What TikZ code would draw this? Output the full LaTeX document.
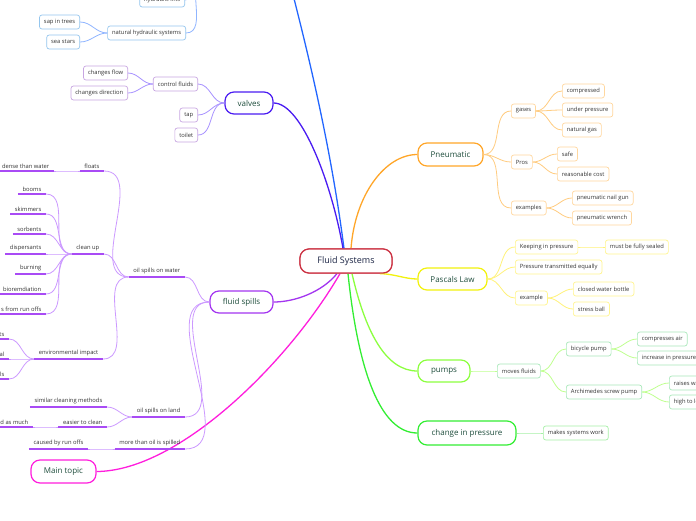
\documentclass[tikz,border=0pt]{standalone}
\usepackage{fontspec}
\setmainfont{Open Sans}
\definecolor{tgray}{HTML}{333333}
\definecolor{mtext}{HTML}{1E4D3C}
\definecolor{ctext}{HTML}{1B2444}
\definecolor{cred}{HTML}{CC3344}
\definecolor{orM}{HTML}{FFA629}
\definecolor{orS}{HTML}{FFD79E}
\definecolor{orL}{HTML}{FFCC80}
\definecolor{yeM}{HTML}{F2F20D}
\definecolor{yeS}{HTML}{FFF58F}
\definecolor{yeL}{HTML}{FFF27A}
\definecolor{puM}{HTML}{8CFF3F}
\definecolor{puS}{HTML}{A9E8BA}
\definecolor{puL}{HTML}{BFFF8F}
\definecolor{chM}{HTML}{33EE33}
\definecolor{chS}{HTML}{A6F0A6}
\definecolor{vaM}{HTML}{4A1CF2}
\definecolor{vaS}{HTML}{C8A6E2}
\definecolor{vaL}{HTML}{A892FF}
\definecolor{hyM}{HTML}{2266FF}
\definecolor{hyS}{HTML}{94C6EE}
\definecolor{hyL}{HTML}{8FB5FF}
\definecolor{fsM}{HTML}{A335F0}
\definecolor{fsU}{HTML}{A94BF5}
\definecolor{fsL}{HTML}{CC99FF}
\definecolor{mtM}{HTML}{FF1EDD}
\begin{document}
\begin{tikzpicture}[x=1pt,y=-1pt,
  mn/.style={draw, line width=1.2pt, rounded corners=9pt, fill=white, font=\fontsize{8}{9}\selectfont, text=mtext, minimum height=23pt, inner sep=2pt},
  sb/.style={draw, line width=0.7pt, rounded corners=2.5pt, fill=white, font=\fontsize{5.8}{7}\selectfont, text=tgray, minimum height=14pt, inner xsep=4.5pt, inner ysep=1pt},
  ul/.style={font=\fontsize{5.8}{7}\selectfont, text=tgray, inner xsep=4.5pt, inner ysep=2.5pt, anchor=south east},
  br/.style={line width=1.3pt},
  cn/.style={line width=0.8pt},
  uline/.style={fsU, line width=1.5pt},
  fc/.style={cn, fsL}
]
\useasboundingbox (0,0) rectangle (696,520);
\clip (0,0) rectangle (696,520);
\fill[white] (0,0) rectangle (696,520);

% ---------- central and main nodes
\node[mn, draw=cred, text=ctext, font=\fontsize{9}{10}\selectfont, minimum width=92pt, minimum height=24pt] (central) at (346,261) {Fluid Systems};
\node[mn, draw=orM, minimum width=65pt] (pneu) at (450.5,154.5) {Pneumatic};
\node[mn, draw=yeM, minimum width=69pt, minimum height=22pt] (pascal) at (452.5,279) {Pascals Law};
\node[mn, draw=puM, minimum width=52pt, minimum height=22pt] (pumps) at (444,371) {pumps};
\node[mn, draw=chM, minimum width=98pt, minimum height=24pt] (change) at (467,433) {change in pressure};
\node[mn, draw=vaM, minimum width=48pt, minimum height=22pt] (valves) at (249,103) {valves};
\node[mn, draw=fsM, minimum width=63pt, minimum height=22pt] (fluid) at (241.5,302) {fluid spills};
\node[mn, draw=mtM, minimum width=65pt] (maintopic) at (63.5,471.5) {Main topic};
\coordinate (hydE) at (284,-40);
\coordinate (hydW) at (206,-25);

% ---------- main branches
\begin{scope}[on background layer/.style={}]
\end{scope}
\draw[br, hyM] ([xshift=-2pt]central.north) .. controls (330,140) and (305,40) .. (hydE);
\draw[br, vaM] ([xshift=-3pt]central.north) .. controls (332,185) and (302,103) .. (valves.east);
\draw[br, orM] ([xshift=5pt]central.north) .. controls (355,195) and (385,154.5) .. (pneu.west);
\draw[br, yeM] ([xshift=34pt]central.south) .. controls (395,274) and (405,279) .. (pascal.west);
\draw[br, puM] ([xshift=6pt]central.south) .. controls (365,330) and (385,371) .. (pumps.west);
\draw[br, chM] ([xshift=2pt]central.south) .. controls (358,370) and (380,433) .. (change.west);
\draw[br, fsM] ([xshift=-9pt]central.south) .. controls (322,292) and (295,302) .. (fluid.east);
\draw[br, mtM] ([xshift=-6pt]central.south) .. controls (290,360) and (180,471) .. (maintopic.east);
% redraw central on top
\node[mn, draw=cred, text=ctext, font=\fontsize{9}{10}\selectfont, minimum width=92pt, minimum height=24pt] at (346,261) {Fluid Systems};

% ---------- Pneumatic
\node[sb, draw=orS, anchor=west] (gases) at (511,111) {gases};
\node[sb, draw=orS, anchor=west] (compressed) at (562,91) {compressed};
\node[sb, draw=orS, anchor=west] (underp) at (562,110) {under pressure};
\node[sb, draw=orS, anchor=west] (natgas) at (562,130) {natural gas};
\node[sb, draw=orS, anchor=west] (pros) at (511,162) {Pros};
\node[sb, draw=orS, anchor=west] (safe) at (557,154) {safe};
\node[sb, draw=orS, anchor=west] (reason) at (557,174) {reasonable cost};
\node[sb, draw=orS, anchor=west] (examples) at (511,208) {examples};
\node[sb, draw=orS, anchor=west] (nailgun) at (572,198) {pneumatic nail gun};
\node[sb, draw=orS, anchor=west] (wrench) at (572,218) {pneumatic wrench};
\foreach \c in {gases,pros,examples} \draw[cn, orL] (pneu.east) to[out=0,in=180] (\c.west);
\foreach \c in {compressed,underp,natgas} \draw[cn, orL] (gases.east) to[out=0,in=180] (\c.west);
\foreach \c in {safe,reason} \draw[cn, orL] (pros.east) to[out=0,in=180] (\c.west);
\foreach \c in {nailgun,wrench} \draw[cn, orL] (examples.east) to[out=0,in=180] (\c.west);

% ---------- Pascals Law
\node[sb, draw=yeS, anchor=west] (keeping) at (515,247) {Keeping in pressure};
\node[sb, draw=yeS, anchor=west] (sealed) at (605,247) {must be fully sealed};
\node[sb, draw=yeS, anchor=west] (transm) at (515,267) {Pressure transmitted equally};
\node[sb, draw=yeS, anchor=west] (example) at (515,298) {example};
\node[sb, draw=yeS, anchor=west] (bottle) at (573,289) {closed water bottle};
\node[sb, draw=yeS, anchor=west] (stress) at (573,309) {stress ball};
\foreach \c in {keeping,transm,example} \draw[cn, yeL] (pascal.east) to[out=0,in=180] (\c.west);
\draw[cn, yeL] (keeping.east) to[out=0,in=180] (sealed.west);
\foreach \c in {bottle,stress} \draw[cn, yeL] (example.east) to[out=0,in=180] (\c.west);

% ---------- pumps
\node[sb, draw=puS, anchor=west] (moves) at (497,371) {moves fluids};
\node[sb, draw=puS, anchor=west] (bicycle) at (566,349) {bicycle pump};
\node[sb, draw=puS, anchor=west] (compair) at (637,339) {compresses air};
\node[sb, draw=puS, anchor=west] (incr) at (637,358) {increase in pressure};
\node[sb, draw=puS, anchor=west] (archi) at (566,392) {Archimedes screw pump};
\node[sb, draw=puS, anchor=west] (raises) at (669,383) {raises water};
\node[sb, draw=puS, anchor=west] (highto) at (669,402) {high to low};
\draw[cn, puL] (pumps.east) to[out=0,in=180] (moves.west);
\foreach \c in {bicycle,archi} \draw[cn, puL] (moves.east) to[out=0,in=180] (\c.west);
\foreach \c in {compair,incr} \draw[cn, puL] (bicycle.east) to[out=0,in=180] (\c.west);
\foreach \c in {raises,highto} \draw[cn, puL] (archi.east) to[out=0,in=180] (\c.west);

% ---------- change in pressure
\node[sb, draw=chS, anchor=west] (makes) at (543,433) {makes systems work};
\draw[cn, chS] (change.east) to[out=0,in=180] (makes.west);

% ---------- valves
\node[sb, draw=vaS, anchor=east] (control) at (198,84) {control fluids};
\node[sb, draw=vaS, anchor=east] (flow) at (128,73) {changes flow};
\node[sb, draw=vaS, anchor=east] (direction) at (128,93) {changes direction};
\node[sb, draw=vaS, anchor=east] (tap) at (198,115) {tap};
\node[sb, draw=vaS, anchor=east] (toilet) at (198,135) {toilet};
\foreach \c in {control,tap,toilet} \draw[cn, vaL] (valves.west) to[out=180,in=0] (\c.east);
\foreach \c in {flow,direction} \draw[cn, vaL] (control.west) to[out=180,in=0] (\c.east);

% ---------- hydraulics (partly off the page)
\node[sb, draw=hyS, anchor=east] (lifts) at (185,0) {hydraulic lifts};
\node[sb, draw=hyS, anchor=east] (nhs) at (186,33) {natural hydraulic systems};
\node[sb, draw=hyS, anchor=east] (sap) at (80,22) {sap in trees};
\node[sb, draw=hyS, anchor=east] (stars) at (80,42) {sea stars};
\foreach \c in {lifts,nhs} \draw[cn, hyL] (hydW) to[out=180,in=0] (\c.east);
\foreach \c in {sap,stars} \draw[cn, hyL] (nhs.west) to[out=180,in=0] (\c.east);

% ---------- fluid spills (underlined topics)
\node[ul] (osw) at (185,277) {oil spills on water};
\node[ul] (floats) at (104,171) {floats};
\node[ul] (dense) at (54,171) {dense than water};
\node[ul] (cleanup) at (104,254) {clean up};
\node[ul] (booms) at (46,194) {booms};
\node[ul] (skimmers) at (46,214) {skimmers};
\node[ul] (sorbents) at (46,234) {sorbents};
\node[ul] (dispers) at (46,254) {dispersants};
\node[ul] (burning) at (46,274) {burning};
\node[ul] (biorem) at (46,294) {bioremdiation};
\node[ul] (runoffs) at (46,314) {s from run offs};
\node[ul] (envimp) at (103,359) {environmental impact};
\node[ul] (ts) at (9,339) {ts};
\node[ul] (al) at (9,359) {al};
\node[ul] (ls) at (9,379) {ls};
\node[ul] (osl) at (185,417) {oil spills on land};
\node[ul] (similar) at (107,407) {similar cleaning methods};
\node[ul] (easier) at (107,427) {easier to clean};
\node[ul] (asmuch) at (33,427) {d as much};
\node[ul] (mto) at (185,449) {more than oil is spilled};
\node[ul] (caused) at (88,449) {caused by run offs};

\foreach \c in {osw,osl,mto} \draw[fc] (fluid.west) to[out=180,in=0] (\c.south east);
\foreach \c in {floats,cleanup,envimp} \draw[fc] (osw.south west) to[out=180,in=0] (\c.south east);
\draw[fc] (floats.south west) to[out=180,in=0] (dense.south east);
\foreach \c in {booms,skimmers,sorbents,dispers,burning,biorem,runoffs} \draw[fc] (cleanup.south west) to[out=180,in=0] (\c.south east);
\foreach \c in {ts,al,ls} \draw[fc] (envimp.south west) to[out=180,in=0] (\c.south east);
\foreach \c in {similar,easier} \draw[fc] (osl.south west) to[out=180,in=0] (\c.south east);
\draw[fc] (easier.south west) to[out=180,in=0] (asmuch.south east);
\draw[fc] (mto.south west) to[out=180,in=0] (caused.south east);

\foreach \c in {osw,floats,dense,cleanup,booms,skimmers,sorbents,dispers,burning,biorem,runoffs,envimp,ts,al,ls,osl,similar,easier,asmuch,mto,caused}
  \draw[uline] (\c.south west) -- (\c.south east);
\end{tikzpicture}
\end{document}
